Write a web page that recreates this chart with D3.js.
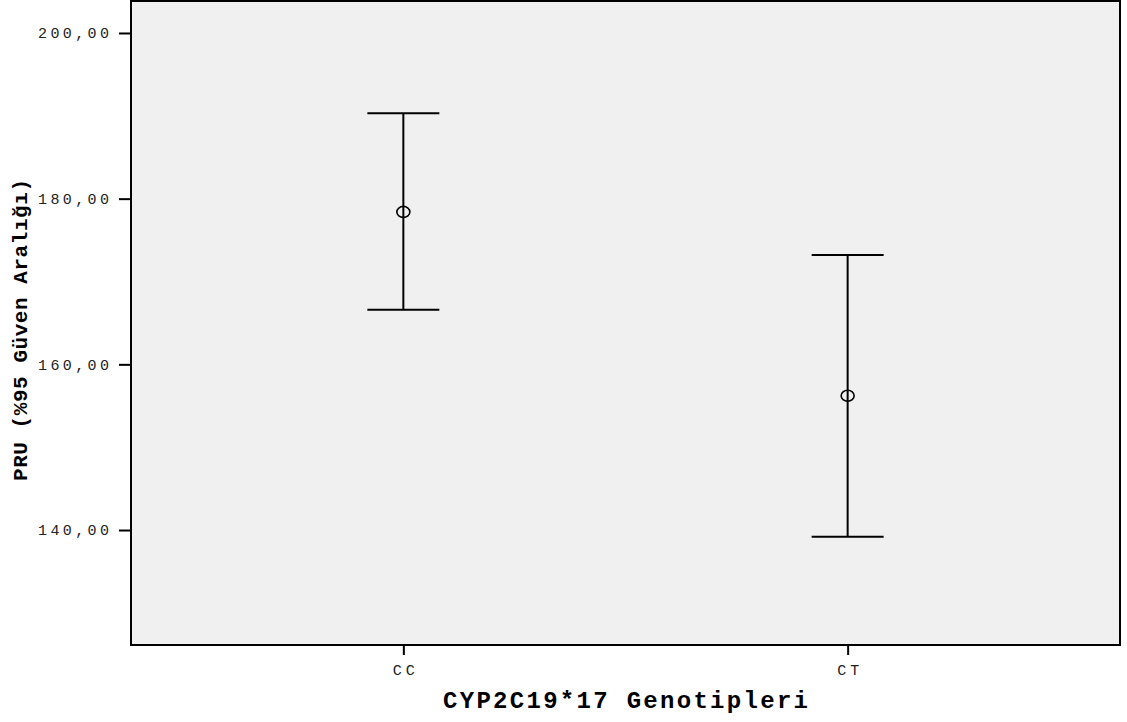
<!DOCTYPE html>
<html><head><meta charset="utf-8">
<script src="https://cdn.jsdelivr.net/npm/d3@7"></script>
<style>body{margin:0;background:#fff}svg{display:block}
.mono{font-family:"Liberation Mono","Courier New","DejaVu Sans Mono",monospace}</style>
</head><body>
<svg id="c" width="1127" height="722"></svg>
<script>
const categories = ["CC", "CT"];
const means = [178.4, 156.2];
const lowerCI = [166.6, 139.2];
const upperCI = [190.3, 173.2];
const yTicks = [140, 160, 180, 200];
const xTitle = "CYP2C19*17 Genotipleri";
const yTitle = "PRU (%95 Güven Aralığı)";

const svg = d3.select("#c");
const m = {l:131, r:1120, t:1, b:645};
const x = d3.scalePoint().domain(categories).range([m.l, m.r]).padding(0.613);
const y = d3.scaleLinear().domain([126.12, 203.86]).range([m.b, m.t]);

svg.append("rect").attr("x", m.l).attr("y", m.t).attr("width", m.r-m.l).attr("height", m.b-m.t)
  .attr("fill", "#f0f0f0").attr("stroke", "#000").attr("stroke-width", 2);

const fmt = v => d3.format(".2f")(v).replace(".", ",");
const yAxis = svg.append("g").attr("transform", `translate(${m.l},0)`)
  .call(d3.axisLeft(y).tickValues(yTicks).tickFormat(fmt).tickSize(12).tickPadding(10));
yAxis.attr("font-family", null).attr("font-size", null);
yAxis.select(".domain").remove();
yAxis.selectAll(".tick line").attr("stroke", "#000").attr("stroke-width", 2);
yAxis.selectAll(".tick text").attr("class", "mono").attr("font-size", 15)
  .attr("fill", "#222").attr("textLength", 71).attr("lengthAdjust", "spacing");

const xAxis = svg.append("g").attr("transform", `translate(0,${m.b})`)
  .call(d3.axisBottom(x).tickSize(10).tickPadding(9));
xAxis.attr("font-family", null).attr("font-size", null);
xAxis.select(".domain").remove();
xAxis.selectAll(".tick line").attr("stroke", "#000").attr("stroke-width", 2);
xAxis.selectAll(".tick text").attr("class", "mono").attr("font-size", 15)
  .attr("fill", "#222").attr("textLength", 22).attr("lengthAdjust", "spacing");

const data = categories.map((c,i)=>({c, m:means[i], lo:lowerCI[i], hi:upperCI[i]}));
const g = svg.append("g");
const cap = 36;
data.forEach(d => {
  const cx = x(d.c);
  g.append("line").attr("x1", cx).attr("x2", cx).attr("y1", y(d.hi)).attr("y2", y(d.lo))
    .attr("stroke", "#000").attr("stroke-width", 2);
  [d.hi, d.lo].forEach(v => g.append("line").attr("x1", cx-cap).attr("x2", cx+cap)
    .attr("y1", y(v)).attr("y2", y(v)).attr("stroke", "#000").attr("stroke-width", 2));
  g.append("ellipse").attr("cx", cx).attr("cy", y(d.m)).attr("rx", 6.5).attr("ry", 5.5)
    .attr("fill", "none").attr("stroke", "#000").attr("stroke-width", 1.6);
});

svg.append("text").attr("class", "mono").attr("x", (m.l+m.r)/2).attr("y", 708).attr("text-anchor", "middle")
  .attr("font-weight", "bold").attr("font-size", 24)
  .attr("textLength", 365).attr("lengthAdjust", "spacing").text(xTitle);
svg.append("text").attr("class", "mono").attr("transform", "translate(27,330) rotate(-90)").attr("text-anchor", "middle")
  .attr("font-weight", "bold").attr("font-size", 21)
  .attr("textLength", 302).attr("lengthAdjust", "spacing").text(yTitle);
</script>
</body></html>
